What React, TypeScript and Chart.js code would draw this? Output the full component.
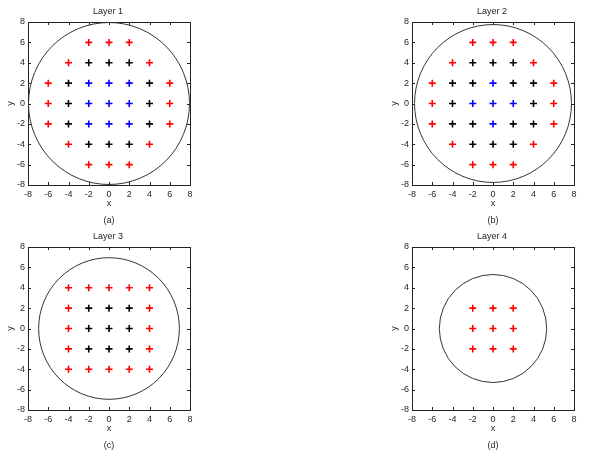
import React, { useEffect, useRef } from "react";
import { Chart, registerables } from "chart.js";

Chart.register(...registerables);

type P = [number, number];

const layerTitles = ["Layer 1", "Layer 2", "Layer 3", "Layer 4"];
const captions = ["(a)", "(b)", "(c)", "(d)"];
const circleRadii = [7.95, 7.75, 6.95, 5.3];
const tickValues = [-8, -6, -4, -2, 0, 2, 4, 6, 8];

const layer1Red: P[] = [[-2, 6], [0, 6], [2, 6], [-4, 4], [4, 4], [-6, 2], [6, 2], [-6, 0], [6, 0], [-6, -2], [6, -2], [-4, -4], [4, -4], [-2, -6], [0, -6], [2, -6]];
const layer1Black: P[] = [[-2, 4], [0, 4], [2, 4], [-4, 2], [4, 2], [-4, 0], [4, 0], [-4, -2], [4, -2], [-2, -4], [0, -4], [2, -4]];
const layer1Blue: P[] = [[-2, 2], [0, 2], [2, 2], [-2, 0], [0, 0], [2, 0], [-2, -2], [0, -2], [2, -2]];

const layer2Red: P[] = [[-2, 6], [0, 6], [2, 6], [-4, 4], [4, 4], [-6, 2], [6, 2], [-6, 0], [6, 0], [-6, -2], [6, -2], [-4, -4], [4, -4], [-2, -6], [0, -6], [2, -6]];
const layer2Black: P[] = [[-2, 4], [0, 4], [2, 4], [-4, 2], [-2, 2], [2, 2], [4, 2], [-4, 0], [4, 0], [-4, -2], [-2, -2], [2, -2], [4, -2], [-2, -4], [0, -4], [2, -4]];
const layer2Blue: P[] = [[0, 2], [-2, 0], [0, 0], [2, 0], [0, -2]];

const layer3Red: P[] = [[-4, 4], [-2, 4], [0, 4], [2, 4], [4, 4], [-4, 2], [4, 2], [-4, 0], [4, 0], [-4, -2], [4, -2], [-4, -4], [-2, -4], [0, -4], [2, -4], [4, -4]];
const layer3Black: P[] = [[-2, 2], [0, 2], [2, 2], [-2, 0], [0, 0], [2, 0], [-2, -2], [0, -2], [2, -2]];
const layer3Blue: P[] = [];

const layer4Red: P[] = [[-2, 2], [0, 2], [2, 2], [-2, 0], [0, 0], [2, 0], [-2, -2], [0, -2], [2, -2]];
const layer4Black: P[] = [];
const layer4Blue: P[] = [];

const layers = [
  { red: layer1Red, black: layer1Black, blue: layer1Blue },
  { red: layer2Red, black: layer2Black, blue: layer2Blue },
  { red: layer3Red, black: layer3Black, blue: layer3Blue },
  { red: layer4Red, black: layer4Black, blue: layer4Blue },
];

const panelPos = [
  { left: 0, top: 0 },
  { left: 384, top: 0 },
  { left: 0, top: 225 },
  { left: 384, top: 225 },
];

const FONT = "'Liberation Sans', Arial, sans-serif";
const TEXT = "#262626";

const framePlugin = {
  id: "matlabFrame",
  beforeDatasetsDraw(chart: any, _args: any, opts: any) {
    const { ctx, chartArea, scales } = chart;
    const { left, right, top, bottom } = chartArea;
    ctx.save();
    ctx.strokeStyle = "#222";
    ctx.lineWidth = 1;
    ctx.strokeRect(Math.round(left) + 0.5, Math.round(top) + 0.5, Math.round(right - left), Math.round(bottom - top));
    const tl = 3;
    ctx.beginPath();
    for (const t of scales.x.ticks) {
      const px = Math.round(scales.x.getPixelForValue(t.value)) + 0.5;
      ctx.moveTo(px, bottom);
      ctx.lineTo(px, bottom - tl);
      ctx.moveTo(px, top);
      ctx.lineTo(px, top + tl);
    }
    for (const t of scales.y.ticks) {
      const py = Math.round(scales.y.getPixelForValue(t.value)) + 0.5;
      ctx.moveTo(left, py);
      ctx.lineTo(left + tl, py);
      ctx.moveTo(right, py);
      ctx.lineTo(right - tl, py);
    }
    ctx.stroke();
    const r = opts && opts.radius;
    if (r) {
      const cx = scales.x.getPixelForValue(0);
      const cy = scales.y.getPixelForValue(0);
      const rx = scales.x.getPixelForValue(r) - cx;
      const ry = cy - scales.y.getPixelForValue(r);
      ctx.beginPath();
      ctx.strokeStyle = "#333";
      ctx.lineWidth = 1;
      ctx.ellipse(cx, cy, rx, ry, 0, 0, Math.PI * 2);
      ctx.stroke();
    }
    ctx.restore();
  },
};

function Panel({ index }: { index: number }) {
  const ref = useRef<HTMLCanvasElement>(null);
  useEffect(() => {
    if (!ref.current) return;
    const layer = layers[index];
    const mk = (pts: P[], color: string) => ({
      data: pts.map(([x, y]) => ({ x, y })),
      pointStyle: "cross",
      pointRadius: 3.5,
      pointHoverRadius: 3.5,
      borderColor: color,
      backgroundColor: color,
      pointBorderWidth: 1.6,
      showLine: false,
    });
    const chart = new Chart(ref.current, {
      type: "scatter",
      data: {
        datasets: [mk(layer.red, "#ff0000"), mk(layer.black, "#000000"), mk(layer.blue, "#0000ff")],
      },
      plugins: [framePlugin],
      options: {
        responsive: false,
        animation: false,
        layout: { padding: 0 },
        plugins: {
          legend: { display: false },
          tooltip: { enabled: false },
          title: {
            display: true,
            text: layerTitles[index],
            color: TEXT,
            font: { family: FONT, size: 9, lineHeight: "10px", weight: "normal" },
            padding: { top: 7, bottom: 5 },
          },
          matlabFrame: { radius: circleRadii[index] },
        } as any,
        scales: {
          x: {
            type: "linear",
            min: -8,
            max: 8,
            afterBuildTicks: (s: any) => {
              s.ticks = tickValues.map((v) => ({ value: v }));
            },
            afterFit: (s: any) => {
              s.height = 45;
            },
            grid: { display: false, drawTicks: false },
            border: { display: false },
            ticks: { color: TEXT, font: { family: FONT, size: 9 }, padding: 4, maxRotation: 0, autoSkip: false },
            title: {
              display: true,
              text: ["x", captions[index]],
              color: TEXT,
              font: { family: FONT, size: 9, lineHeight: "17px" },
              padding: { top: 0, bottom: 1 },
            },
          },
          y: {
            type: "linear",
            min: -8,
            max: 8,
            afterBuildTicks: (s: any) => {
              s.ticks = tickValues.map((v) => ({ value: v }));
            },
            afterFit: (s: any) => {
              s.width = 28;
            },
            grid: { display: false, drawTicks: false },
            border: { display: false },
            ticks: { color: TEXT, font: { family: FONT, size: 9 }, padding: 3, autoSkip: false },
            title: {
              display: true,
              text: "y",
              color: TEXT,
              font: { family: FONT, size: 9, lineHeight: "10px" },
              padding: { top: 6, bottom: 0 },
            },
          },
          yRight: {
            type: "linear",
            position: "right",
            display: true,
            min: -8,
            max: 8,
            afterFit: (s: any) => {
              s.width = 26;
            },
            grid: { display: false, drawTicks: false },
            border: { display: false },
            ticks: { display: false },
          },
        },
      } as any,
    });
    return () => chart.destroy();
  }, [index]);
  const pos = panelPos[index];
  return (
    <canvas
      ref={ref}
      width={216}
      height={230}
      style={{ position: "absolute", left: pos.left, top: pos.top, width: 216, height: 230 }}
    />
  );
}

export default function App() {
  return (
    <div style={{ position: "absolute", left: 0, top: 0, width: 600, height: 460, background: "#fff" }}>
      {[0, 1, 2, 3].map((i) => (
        <Panel key={i} index={i} />
      ))}
    </div>
  );
}
